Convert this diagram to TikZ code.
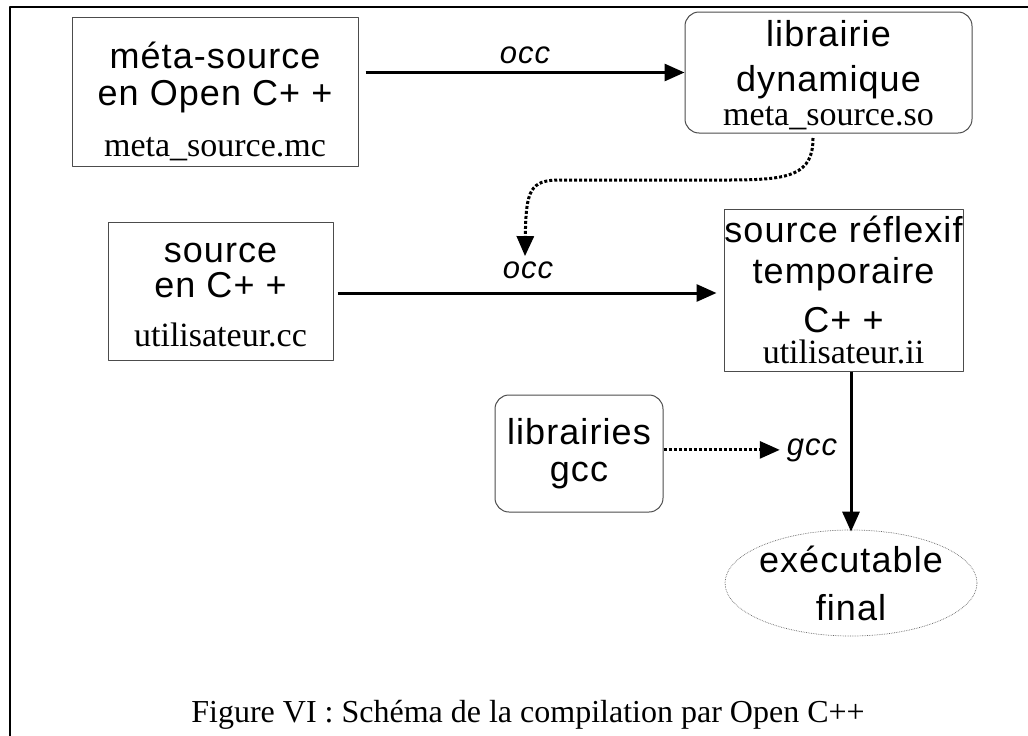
\documentclass[tikz,border=0pt]{standalone}
\usepackage{fontspec}
\setmainfont{Liberation Serif}
\setsansfont{Liberation Sans}[LetterSpace=3]
\usetikzlibrary{arrows.meta,shapes.geometric}
\newcommand\sfbig{\sffamily\fontsize{36}{37}\selectfont}
\newcommand\rmmid{\rmfamily\fontsize{34}{36}\selectfont}
\newcommand\arrlab{\sffamily\itshape\fontsize{31}{32}\selectfont}
\begin{document}
\begin{tikzpicture}[x=1pt, y=-1pt, line join=round,
  box/.style={draw=black!70, line width=1pt, inner sep=0pt, align=center, font=\sfbig},
  rbox/.style={box, rounded corners=14pt},
  flow/.style={-{Triangle[length=20pt,width=17pt]}, line width=3pt},
  dotflow/.style={flow, dotted},
  lab/.style={font=\arrlab, inner sep=0pt}]
 \useasboundingbox (0,0) rectangle (1028,736);
 \clip (0,0) rectangle (1028,736);
 \draw[line width=2pt] (10,760) |- (1050,7);
 % boites
 \node[box, minimum width=286pt, minimum height=149pt] (meta) at (215,91.5)
   {\rule{0pt}{46pt}méta-source\\en Open C+ +\\[14pt]{\rmmid meta\_source.mc}};
 \node[rbox, minimum width=287pt, minimum height=121pt] (lib) at (828.5,72.5)
   {\rule{0pt}{32pt}librairie\\[8pt]dynamique\\[-3pt]{\rmmid meta\_source.so}};
 \node[box, minimum width=225pt, minimum height=138pt] (src) at (220.5,291)
   {\rule{0pt}{28pt}source\\[-2pt]en C+ +\\[12pt]{\rmmid utilisateur.cc}};
 \node[box, minimum width=239pt, minimum height=162pt] (refl) at (843.5,290)
   {source réflexif\\[4pt]temporaire\\[12pt]C+ +\\[-6pt]{\rmmid utilisateur.ii}};
 \node[rbox, minimum width=168pt, minimum height=117pt] (libgcc) at (579,453.5)
   {librairies\\gcc};
 \node[ellipse, draw=black!60, densely dotted, line width=0.7pt, inner xsep=-40pt, inner ysep=-25pt,
   minimum width=252pt, minimum height=106pt, align=center, font=\sfbig] (exe) at (851,583)
   {exécutable\\[11pt]final};
 % etiquettes
 \node[lab, anchor=base] (occA) at (525,63) {occ};
 \node[lab, anchor=base] (occB) at (528,278) {occ};
 \node[lab, anchor=base] (gccA) at (812,455) {gcc};
 % fleches
 \draw[flow] ([xshift=7pt]meta.east |- lib.west) -- (lib.west);
 \draw[flow] ([xshift=4pt]src.east |- 0,293) -- ([xshift=-7pt]refl.west |- 0,293);
 \draw[flow] (exe.north |- refl.south) -- ([yshift=-2pt]exe.north);
 \draw[dotflow] (libgcc.east |- gccA.west) -- ([xshift=-7pt]gccA.west);
 \draw[dotflow] (813,138) .. controls (813,175) and (790,180) .. (730,180)
   -- (560,180) .. controls (530,180) and (526,190) .. ([xshift=-3pt,yshift=5pt]occB.north);
 \node[font=\rmfamily\fontsize{32}{34}\selectfont, anchor=base] (cap) at (528,722)
   {Figure VI : Schéma de la compilation par Open C++};
\end{tikzpicture}
\end{document}
